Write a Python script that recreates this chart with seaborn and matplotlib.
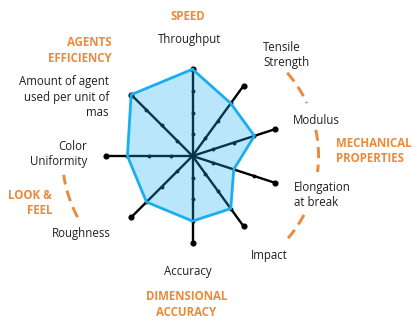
import numpy as np
import matplotlib.pyplot as plt
import seaborn as sns

categories = ["Throughput", "Tensile\nStrength", "Modulus", "Elongation\nat break", "Impact",
              "Accuracy", "Roughness", "Color\nUniformity", "Amount of agent\nused per unit of\nmas"]
scores = [4, 3, 3, 2, 3, 3, 3, 3, 4]
scale_max = 4
groups = ["SPEED", "MECHANICAL\nPROPERTIES", "DIMENSIONAL\nACCURACY", "LOOK &\nFEEL", "AGENTS\nEFFICIENCY"]

sns.set_style("white")
plt.rcParams["font.family"] = ["Open Sans", "DejaVu Sans"]

W, H = 413, 323
fig = plt.figure(figsize=(W / 100, H / 100), dpi=100)
ax = fig.add_axes([58 / W, 32.5 / H, 269 / W, 269 / H], projection="polar")
ax.set_theta_zero_location("N")
ax.set_theta_direction(-1)
ax.set_ylim(0, 6.2)
ax.axis("off")

# right half spaced 36 deg, left half 45 deg
deg = np.r_[np.arange(6) * 36, 180 + np.arange(1, 4) * 45]
theta = np.deg2rad(deg)

dark = "#231f20"
orange = "#ec8a3c"
blue = "#19aeef"

for t in theta:
    ax.plot([t, t], [0, scale_max], color="black", lw=1.7, zorder=1, solid_capstyle="butt")
    ax.plot([t] * 3, [1, 2, 3], "o", color="black", ms=1.8, zorder=1)
    ax.plot([t], [scale_max], "o", color="black", ms=3.4, zorder=1)

# close the shape at 2*pi so seaborn doesn't merge it with the first point
tc = np.r_[theta, theta[0] + 2 * np.pi]
sc = np.r_[scores, scores[0]]
ax.fill(tc, sc, color=blue, alpha=0.3, lw=0, zorder=2)
sns.lineplot(x=tc, y=sc, sort=False, color=blue, lw=2, ax=ax, zorder=3)

# dashed group arcs
arcs = [(48.7, 65.2, 5.81), (78, 97.3, 5.81), (117.9, 130.7, 5.81), (242, 261.7, 6.0)]
for a0, a1, r in arcs:
    tt = np.deg2rad(np.linspace(a0, a1, 40))
    ax.plot(tt, np.full_like(tt, r), color=orange, lw=2.1, ls=(0, (3.8, 2.2)), zorder=1)


def px(x, y):
    return x / W, 1 - y / H


fs = 8.3
label_pos = [(190, 40, "center"), (263, 55, "left"), (293, 120, "left"), (294, 194.5, "left"),
             (251, 256, "left"), (187.5, 271, "center"), (111, 234, "right"), (87, 154, "right"),
             (109, 97, "right")]
for name, (x, y, ha) in zip(categories, label_pos):
    fig.text(*px(x, y), name, ha=ha, va="center", fontsize=fs, color=dark,
             linespacing=1.2, multialignment=ha)

group_pos = [(188, 16, "center"), (336, 151, "left"), (186.5, 304.5, "center"),
             (52, 203, "right"), (111.5, 50.5, "right")]
for name, (x, y, ha) in zip(groups, group_pos):
    fig.text(*px(x, y), name, ha=ha, va="center", fontsize=fs, color=orange,
             fontweight="bold", linespacing=1.2, multialignment=ha)

fig.savefig("out.png", dpi=100)
